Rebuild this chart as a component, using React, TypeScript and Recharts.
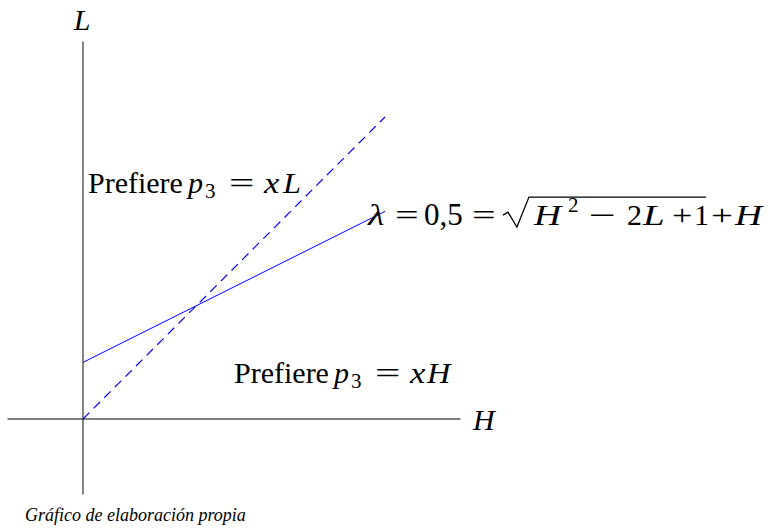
import React from "react";
import { LineChart, Line, XAxis, YAxis, ReferenceLine, ReferenceDot } from "recharts";

// H values where both lines are drawn
const hValues = [0, 2];
// Indifference line for λ = 0,5:  L = H/2 + 3/8
const indifferenceL = [0.375, 1.375];
// 45° line L = H
const diagonalL = [0, 2];

const data = hValues.map((h, i) => ({ h, solid: indifferenceL[i], dashed: diagonalL[i] }));

const W = 770;
const H = 531;
const UNIT = 151; // pixels per unit
const ORIGIN_X = 83;
const ORIGIN_Y = 419;
const xDomain: [number, number] = [-ORIGIN_X / UNIT, (W - ORIGIN_X) / UNIT];
const yDomain: [number, number] = [-(H - ORIGIN_Y) / UNIT, ORIGIN_Y / UNIT];

const SERIF = "'Liberation Serif', 'Times New Roman', serif";
const FS = 30;
const SUB = 21;

// One glyph group of a typeset formula, placed relative to the row's anchor
type Piece = {
  t: string;
  dx: number;
  dy?: number;
  italic?: boolean;
  size?: number;
  sx?: number; // horizontal stretch for wide math glyphs
};

const renderRow = (x: number, y: number, pieces: Piece[], extra?: React.ReactNode) => (
  <g>
    {pieces.map((p, i) => (
      <text
        key={i}
        x={0}
        y={0}
        transform={`translate(${x + p.dx} ${y + (p.dy ?? 0)}) scale(${p.sx ?? 1} 1)`}
        fontFamily={SERIF}
        fontStyle={p.italic ? "italic" : "normal"}
        fontSize={p.size ?? FS}
        fill="#000"
      >
        {p.t}
      </text>
    ))}
    {extra}
  </g>
);

const at = (h: number, l: number, render: (x: number, y: number) => React.ReactNode, key: string) => (
  <ReferenceDot
    key={key}
    x={h}
    y={l}
    r={0}
    fill="none"
    stroke="none"
    ifOverflow="visible"
    label={{
      content: (props: any) => {
        const vb = props.viewBox || {};
        return render(vb.x ?? 0, vb.y ?? 0);
      },
    }}
  />
);

const prefers = (variable: string): Piece[] => [
  { t: "Prefiere", dx: 0 },
  { t: "p", dx: 100, italic: true },
  { t: "3", dx: 117, dy: 5, size: SUB },
  { t: "=", dx: 141, sx: 1.5 },
  { t: "x", dx: 176, italic: true, sx: 1.15 },
  { t: variable, dx: variable === "L" ? 195 : 193, italic: true, sx: 1.08 },
];

const formula: Piece[] = [
  { t: "λ", dx: 0, italic: true, sx: 1.25 },
  { t: "=", dx: 27, sx: 1.4 },
  { t: "0,5", dx: 56, size: 31 },
  { t: "=", dx: 104, sx: 1.4 },
  { t: "H", dx: 166, italic: true, sx: 1.25 },
  { t: "2", dx: 200, dy: -13, size: SUB },
  { t: "−", dx: 221, sx: 1.6 },
  { t: "2", dx: 259 },
  { t: "L", dx: 275, italic: true, sx: 1.3 },
  { t: "+", dx: 304, sx: 1.2 },
  { t: "1", dx: 326 },
  { t: "+", dx: 343, sx: 1.3 },
  { t: "H", dx: 367, italic: true, sx: 1.25 },
];

export default function App() {
  return (
    <div style={{ position: "absolute", left: 0, top: 0 }}>
      <LineChart width={W} height={H} data={data} margin={{ top: 0, right: 0, bottom: 0, left: 0 }}>
        <XAxis type="number" dataKey="h" domain={xDomain} hide allowDataOverflow />
        <YAxis type="number" domain={yDomain} hide allowDataOverflow />
        <ReferenceLine
          segment={[{ x: -0.5, y: 0 }, { x: 2.5, y: 0 }]}
          stroke="#555"
          strokeWidth={1.3}
        />
        <ReferenceLine
          segment={[{ x: 0, y: -0.5 }, { x: 0, y: 2.5 }]}
          stroke="#222"
          strokeWidth={1.1}
        />
        <Line
          dataKey="dashed"
          type="linear"
          stroke="#0000ff"
          strokeWidth={1.2}
          strokeDasharray="9 6"
          dot={false}
          activeDot={false}
          isAnimationActive={false}
        />
        <Line
          dataKey="solid"
          type="linear"
          stroke="#0000ff"
          strokeWidth={1}
          dot={false}
          activeDot={false}
          isAnimationActive={false}
        />
        {at(0, 2.576, (x, y) => (
          <text x={x - 1} y={y} textAnchor="middle" fontFamily={SERIF} fontStyle="italic" fontSize={FS} fill="#000">L</text>
        ), "lab-L")}
        {at(2.583, -0.073, (x, y) => (
          <text x={x} y={y} fontFamily={SERIF} fontStyle="italic" fontSize={FS} fill="#000">H</text>
        ), "lab-H")}
        {at(0.033, 1.497, (x, y) => renderRow(x, y, prefers("L")), "lab-xL")}
        {at(1.0, 0.238, (x, y) => renderRow(x, y, prefers("H")), "lab-xH")}
        {at(1.887, 1.284, (x, y) =>
          renderRow(
            x,
            y,
            formula,
            <path
              d={`M ${x + 135} ${y - 10} L ${x + 140} ${y - 13} L ${x + 149} ${y + 2} L ${x + 161} ${y - 28} L ${x + 338} ${y - 28}`}
              fill="none"
              stroke="#000"
              strokeWidth={1.3}
            />
          ), "lab-eq")}
        {at(-0.384, -0.675, (x, y) => (
          <text x={x} y={y} fontFamily={SERIF} fontStyle="italic" fontSize={18} fill="#000">
            Gráfico de elaboración propia
          </text>
        ), "caption")}
      </LineChart>
    </div>
  );
}
